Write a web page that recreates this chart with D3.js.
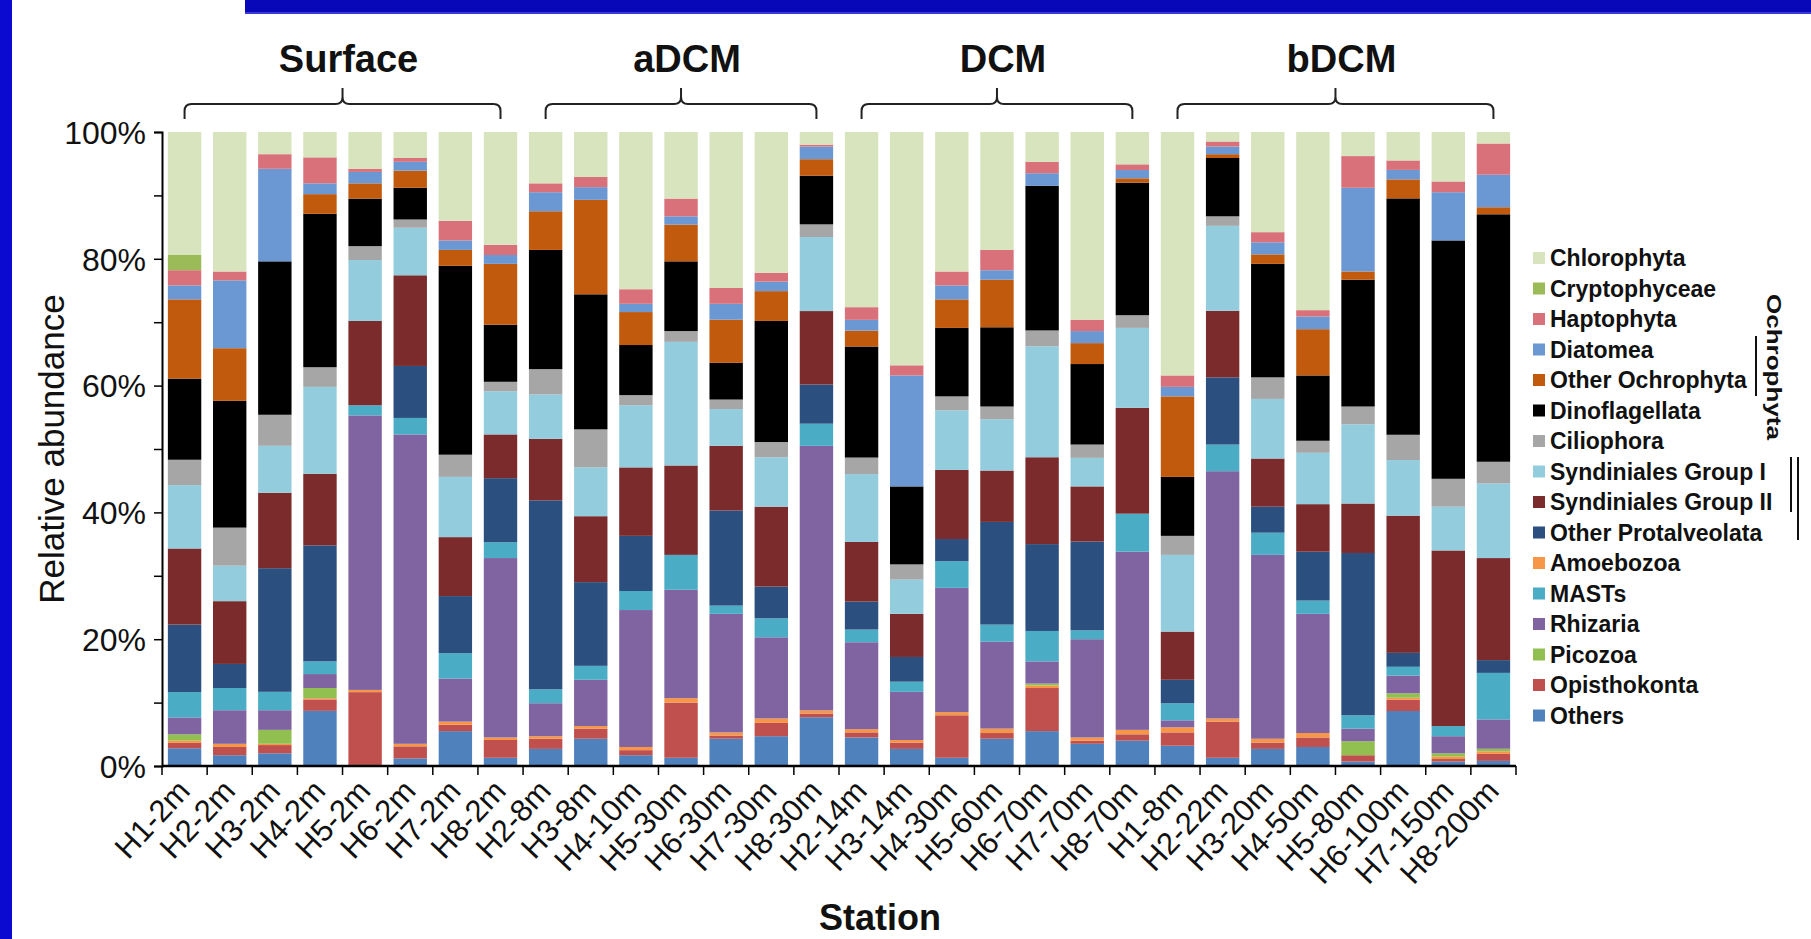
<!DOCTYPE html>
<html>
<head>
<meta charset="utf-8">
<script src="https://cdn.jsdelivr.net/npm/d3@7/dist/d3.min.js"></script>
<style>
  html, body { margin: 0; padding: 0; background: #fff; }
  svg { display: block; font-family: "Liberation Sans", Arial, sans-serif; }
</style>
</head>
<body>
<svg id="chart" width="1811" height="939"></svg>
<script>
// Stations (x categories) and the depth layers they belong to
const stations = ["H1-2m","H2-2m","H3-2m","H4-2m","H5-2m","H6-2m","H7-2m","H8-2m",
  "H2-8m","H3-8m","H4-10m","H5-30m","H6-30m","H7-30m","H8-30m",
  "H2-14m","H3-14m","H4-30m","H5-60m","H6-70m","H7-70m","H8-70m",
  "H1-8m","H2-22m","H3-20m","H4-50m","H5-80m","H6-100m","H7-150m","H8-200m"];
const layers = ["Surface","aDCM","DCM","bDCM"];
const layerStart = [0, 8, 15, 22];
const layerEnd = [7, 14, 21, 29];

// Relative abundance (%) of each taxonomic group per station
const others       = [2.8,1.7,2.0,8.7,0,1.2,5.5,1.3,2.7,4.3,1.7,1.3,4.3,4.7,7.7,4.5,2.7,1.3,4.3,5.5,3.5,4.0,3.2,1.3,2.7,3.0,0.7,8.7,0.7,0.8];
const opisthokonta = [0.85,1.3,1.3,1.8,11.65,1.9,1.0,2.8,1.6,1.6,0.8,8.7,0.5,2.1,0.6,0.8,1.0,6.7,0.9,6.8,0.5,1.0,2.1,5.7,1.0,1.5,1.0,1.8,0.4,1.1];
const amoebozoa    = [0.35,0.5,0.2,0.2,0.35,0.4,0.5,0.4,0.4,0.4,0.5,0.7,0.5,0.7,0.5,0.5,0.4,0.5,0.7,0.4,0.5,0.7,0.8,0.5,0.6,0.7,0,0.3,0.4,0.4];
const picozoa      = [1.0,0,2.2,1.6,0,0,0,0,0,0,0,0,0,0,0,0,0,0,0,0.3,0,0,0,0,0,0,2.2,0.7,0.5,0.4];
const rhizaria     = [2.66,5.3,3.1,2.2,43.3,48.8,6.8,28.3,5.2,7.3,21.6,17.1,18.7,12.8,41.8,13.7,7.6,19.6,13.7,3.5,15.5,28.1,1.1,39.0,29.0,18.8,2.0,2.8,2.7,4.6];
const masts        = [4.0,3.5,2.9,2.0,1.6,2.6,4.0,2.5,2.2,2.2,3.0,5.5,1.3,3.0,3.5,2.0,1.6,4.2,2.7,4.8,1.4,6.0,2.7,4.2,3.5,2.1,2.1,1.4,1.6,7.3];
const otherProtalveolata = [10.65,3.8,19.5,18.3,0,8.2,9.0,10.1,29.8,13.2,8.7,0,15.0,5.0,6.2,4.4,3.9,3.5,16.2,13.7,14.0,0,3.7,10.6,4.1,7.7,25.6,2.2,0,2.0];
const syndinialesII = [12.0,9.9,11.9,11.3,13.3,14.3,9.3,6.9,9.7,10.4,10.8,14.1,10.2,12.6,11.6,9.4,6.8,10.9,8.1,13.7,8.7,16.7,7.6,10.5,7.6,7.5,7.8,21.7,27.7,16.0];
const syndinialesI  = [10.0,5.6,7.4,13.7,9.6,7.5,9.5,6.8,7.0,7.7,9.8,19.5,5.8,7.8,11.7,10.7,5.4,9.4,8.1,17.5,4.5,12.6,12.1,13.4,9.4,8.1,12.5,8.8,6.9,11.7];
const ciliophora   = [4.0,6.0,4.9,3.1,2.2,1.3,3.5,1.5,4.0,6.0,1.6,1.7,1.5,2.4,2.0,2.6,2.4,2.2,2.0,2.5,2.1,2.0,3.0,1.5,3.4,1.9,2.8,4.0,4.4,3.4];
const dinoflagellata = [12.8,20.0,24.2,24.2,7.5,5.0,29.8,9.0,18.8,21.3,7.9,11.0,5.8,19.1,7.7,17.5,12.3,10.8,12.5,22.8,12.7,20.9,9.3,9.2,17.9,10.3,20.0,37.4,37.6,38.8];
const otherOchrophyta = [12.5,8.3,0,3.1,2.4,2.7,2.5,9.6,6.1,14.9,5.2,5.8,6.8,4.7,2.6,2.5,0,4.5,7.5,0,3.3,0.7,12.7,0.6,1.5,7.3,1.3,3.0,0,1.1];
const diatomea     = [2.2,10.7,14.6,1.7,1.8,1.4,1.5,1.4,3.0,2.0,1.3,1.3,2.5,1.5,2.0,1.7,17.5,2.2,1.5,2.0,1.9,1.3,1.5,1.2,1.9,2.0,13.2,1.5,7.6,5.1];
const haptophyta   = [2.4,1.4,2.3,4.1,0.5,0.6,3.1,1.6,1.4,1.6,2.3,2.8,2.5,1.4,0.3,2.0,1.6,2.2,3.2,1.8,1.8,0.9,1.8,0.8,1.6,1.0,5.0,1.5,1.7,4.9];
const cryptophyceae = [2.4,0,0,0,0,0,0,0,0,0,0,0,0,0,0,0,0,0,0,0,0,0,0,0,0,0,0,0,0,0];
const chlorophyta  = [19.4,22.0,3.5,4.0,5.8,4.1,14.0,17.8,8.1,7.1,24.8,10.5,24.6,22.2,2.0,27.6,36.8,22.0,18.6,4.7,29.6,5.1,38.4,1.5,15.8,28.1,3.8,4.5,7.8,1.8];

// Legend order (top to bottom) with fill colours
const taxa = [
  {name: "Chlorophyta", values: chlorophyta, color: "#d7e4bd"},
  {name: "Cryptophyceae", values: cryptophyceae, color: "#9bbb59"},
  {name: "Haptophyta", values: haptophyta, color: "#d9717a"},
  {name: "Diatomea", values: diatomea, color: "#6b98d2"},
  {name: "Other Ochrophyta", values: otherOchrophyta, color: "#c25a0e"},
  {name: "Dinoflagellata", values: dinoflagellata, color: "#000000"},
  {name: "Ciliophora", values: ciliophora, color: "#a6a6a6"},
  {name: "Syndiniales Group I", values: syndinialesI, color: "#93cddd"},
  {name: "Syndiniales Group II", values: syndinialesII, color: "#7b2b2b"},
  {name: "Other Protalveolata", values: otherProtalveolata, color: "#2b4f7e"},
  {name: "Amoebozoa", values: amoebozoa, color: "#f79646"},
  {name: "MASTs", values: masts, color: "#4bacc6"},
  {name: "Rhizaria", values: rhizaria, color: "#8064a2"},
  {name: "Picozoa", values: picozoa, color: "#92c050"},
  {name: "Opisthokonta", values: opisthokonta, color: "#c0504d"},
  {name: "Others", values: others, color: "#4f81bd"}
];
// Stacking order, bottom to top
const stackOrder = ["Others","Opisthokonta","Amoebozoa","Picozoa","Rhizaria","MASTs",
  "Other Protalveolata","Syndiniales Group II","Syndiniales Group I","Ciliophora",
  "Dinoflagellata","Other Ochrophyta","Diatomea","Haptophyta","Cryptophyceae","Chlorophyta"];
const yTicks = [0, 0.1, 0.2, 0.3, 0.4, 0.5, 0.6, 0.7, 0.8, 0.9, 1];

const byName = new Map(taxa.map(t => [t.name, t]));
const rows = stations.map((s, i) => {
  const r = {station: s};
  taxa.forEach(t => { r[t.name] = t.values[i]; });
  return r;
});

const svg = d3.select("#chart");
const W = 1811, H = 939;
const plot = {left: 162, right: 1516, top: 132, bottom: 766};

// Frame decoration
svg.append("rect").attr("x", 0).attr("y", 0).attr("width", 12).attr("height", H).attr("fill", "#0a0ad0");
svg.append("rect").attr("x", 245).attr("y", 0).attr("width", W - 245).attr("height", 14).attr("fill", "#0808b8");
svg.append("rect").attr("x", 245).attr("y", 12).attr("width", W - 245).attr("height", 2).attr("fill", "#3a3ad8");

const x = d3.scaleBand().domain(stations).range([plot.left, plot.right]).paddingInner(0.26).paddingOuter(0.13);
const y = d3.scaleLinear().domain([0, 1]).range([plot.bottom, plot.top]);

const series = d3.stack().keys(stackOrder).offset(d3.stackOffsetExpand)(rows);

svg.append("g").selectAll("g")
  .data(series).join("g")
  .attr("fill", d => byName.get(d.key).color)
  .selectAll("rect")
  .data(d => d).join("rect")
  .attr("x", d => x(d.data.station))
  .attr("width", x.bandwidth())
  .attr("y", d => y(d[1]))
  .attr("height", d => Math.max(0, y(d[0]) - y(d[1])));

// Y axis
const yAxis = svg.append("g").attr("transform", `translate(${plot.left},0)`)
  .call(d3.axisLeft(y).tickValues(yTicks).tickSize(8)
    .tickFormat(d => (Math.round(d * 100) % 20 === 0) ? d3.format(".0%")(d) : ""));
yAxis.select(".domain").attr("stroke", "#000").attr("stroke-width", 2);
yAxis.selectAll(".tick line").attr("stroke", "#000").attr("stroke-width", 1.5);
yAxis.selectAll(".tick text").attr("font-size", 32).attr("fill", "#111").attr("x", -16).attr("dy", "0.35em");

// X axis: ticks at band boundaries, labels rotated
const xg = svg.append("g").attr("transform", `translate(0,${plot.bottom})`);
xg.append("line").attr("x1", plot.left).attr("x2", plot.right)
  .attr("stroke", "#000").attr("stroke-width", 2.5);
const step = x.step();
const boundaries = stations.map((s, i) => x(s) - (step - x.bandwidth()) / 2).concat([plot.right]);
xg.selectAll("line.bt").data(boundaries).join("line").attr("class", "bt")
  .attr("x1", d => d).attr("x2", d => d).attr("y1", 0).attr("y2", 9)
  .attr("stroke", "#000").attr("stroke-width", 1.5);
xg.selectAll("text").data(stations).join("text")
  .attr("transform", d => `translate(${x(d) + x.bandwidth() / 2 - 2},${18}) rotate(-47)`)
  .attr("text-anchor", "end").attr("dy", "0.4em")
  .attr("font-size", 31).attr("fill", "#111")
  .text(d => d);

// Axis titles
svg.append("text").attr("transform", `translate(52,${(plot.top + plot.bottom) / 2}) rotate(-90)`)
  .attr("text-anchor", "middle").attr("dy", "0.35em").attr("font-size", 35).attr("fill", "#111")
  .text("Relative abundance");
svg.append("text").attr("x", 880).attr("y", 930).attr("text-anchor", "middle")
  .attr("font-size", 36).attr("font-weight", "bold").attr("fill", "#111").text("Station");

// Depth layer braces
const cx = i => x(stations[i]) + x.bandwidth() / 2;
layers.forEach((name, k) => {
  const x0 = cx(layerStart[k]), x1 = cx(layerEnd[k]), m = (x0 + x1) / 2;
  const yb = 104, r = 7;
  const p = `M${x0},119 L${x0},${yb + r} Q${x0},${yb} ${x0 + r},${yb} L${m - r},${yb} Q${m},${yb} ${m},${yb - r} L${m},88
             M${m},${yb - r} Q${m},${yb} ${m + r},${yb} L${x1 - r},${yb} Q${x1},${yb} ${x1},${yb + r} L${x1},119`;
  svg.append("path").attr("d", p).attr("fill", "none").attr("stroke", "#222").attr("stroke-width", 2);
  svg.append("text").attr("x", m + 6).attr("y", 72).attr("text-anchor", "middle")
    .attr("font-size", 38).attr("font-weight", "bold").attr("fill", "#111").text(name);
});

// Legend
const lg = svg.append("g");
const ly0 = 258, lstep = 30.5;
taxa.forEach((t, i) => {
  const yy = ly0 + i * lstep;
  lg.append("rect").attr("x", 1533).attr("y", yy - 6).attr("width", 12).attr("height", 12).attr("fill", t.color);
  lg.append("text").attr("x", 1550).attr("y", yy).attr("dy", "0.36em")
    .attr("font-size", 23).attr("font-weight", "bold").attr("fill", "#111").text(t.name);
});
// Group brackets beside the legend
lg.append("line").attr("x1", 1756).attr("x2", 1756).attr("y1", 336).attr("y2", 396).attr("stroke", "#111").attr("stroke-width", 2);
lg.append("line").attr("x1", 1791).attr("x2", 1791).attr("y1", 457).attr("y2", 512).attr("stroke", "#111").attr("stroke-width", 2);
lg.append("line").attr("x1", 1798).attr("x2", 1798).attr("y1", 457).attr("y2", 540).attr("stroke", "#111").attr("stroke-width", 2);
lg.append("text").attr("transform", "translate(1774,367) rotate(90)")
  .attr("text-anchor", "middle").attr("dy", "0.35em")
  .attr("font-size", 20).attr("font-weight", "bold").attr("fill", "#111")
  .attr("textLength", 146).attr("lengthAdjust", "spacingAndGlyphs")
  .text("Ochrophyta");
</script>
</body>
</html>
